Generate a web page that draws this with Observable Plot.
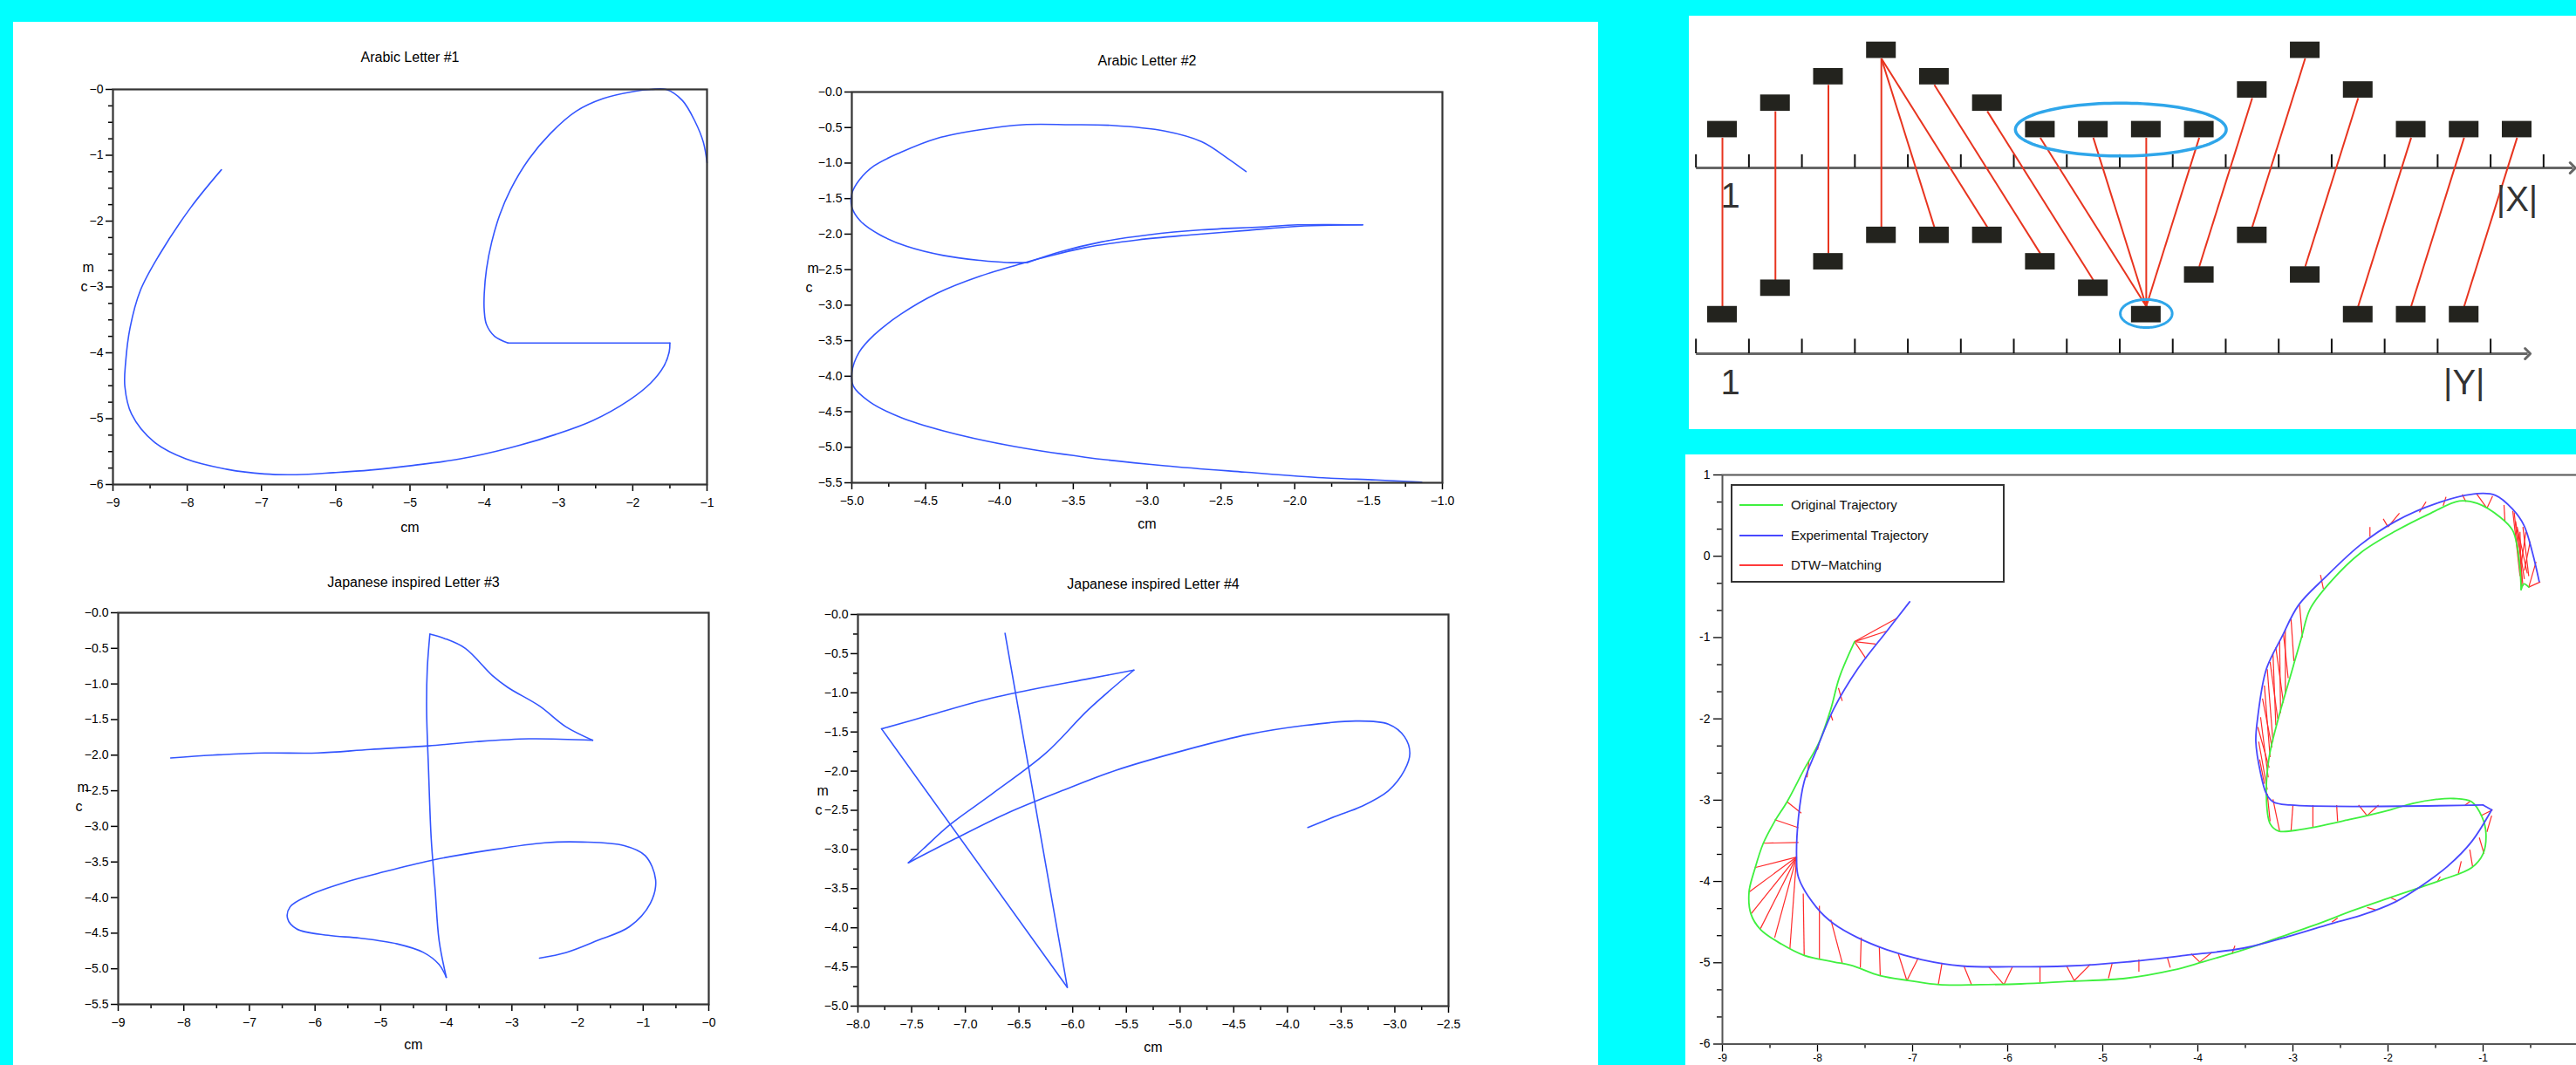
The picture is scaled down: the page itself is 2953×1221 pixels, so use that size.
<!DOCTYPE html>
<html><head><meta charset="utf-8">
<script src="https://cdn.jsdelivr.net/npm/d3@7"></script>
<script src="https://cdn.jsdelivr.net/npm/@observablehq/plot@0.6"></script>
<style>
html,body{margin:0;padding:0;}
body{width:2953px;height:1221px;background:#00ffff;position:relative;overflow:hidden;font-family:"Liberation Sans Narrow","Liberation Sans",Arial,sans-serif;}
.panel{position:absolute;background:#fff;}
svg{overflow:visible;}
.legend{position:absolute;left:1984px;top:555px;width:310px;height:109px;border:2px solid #333;background:#fff;font:15px "Liberation Sans Narrow","Liberation Sans",sans-serif;color:#111;}
.legend div{position:absolute;left:0;height:20px;line-height:20px;}
.legend span.l{position:absolute;left:8px;top:9px;width:50px;height:2px;}
.legend span.t{position:absolute;left:67px;top:0;white-space:nowrap;}
</style></head><body>
<div class="panel" style="left:15px;top:25px;width:1817px;height:1196px"></div>
<div class="panel" style="left:1936px;top:18px;width:1017px;height:474px"></div>
<div class="panel" style="left:1932px;top:521px;width:1021px;height:700px"></div>
<script>
// ---------------- DATA ----------------
const letter1 = [[-7.54,-1.22],[-7.95,-1.79],[-8.38,-2.52],[-8.63,-3.05],[-8.77,-3.62],[-8.83,-4.15],[-8.84,-4.51],[-8.75,-4.93],[-8.45,-5.35],[-8.02,-5.61],[-7.46,-5.77],[-6.96,-5.84],[-6.53,-5.85],[-6.03,-5.82],[-5.53,-5.78],[-4.96,-5.71],[-4.32,-5.61],[-3.68,-5.45],[-3.04,-5.24],[-2.54,-5.03],[-2.05,-4.72],[-1.76,-4.46],[-1.58,-4.20],[-1.51,-3.99],[-1.50,-3.85],[-3.68,-3.85],[-3.86,-3.75],[-3.97,-3.57],[-4.00,-3.36],[-4.00,-3.10],[-3.97,-2.73],[-3.90,-2.32],[-3.79,-1.90],[-3.65,-1.53],[-3.40,-1.06],[-3.11,-0.67],[-2.76,-0.33],[-2.40,-0.14],[-1.98,-0.03],[-1.75,0],[-1.55,0],[-1.33,-0.17],[-1.16,-0.49],[-1.05,-0.80],[-1.00,-1.11]];
const corners1 = [24, 25];
const letter2 = [[-2.33,-1.12],[-2.45,-0.94],[-2.63,-0.70],[-2.88,-0.55],[-3.24,-0.47],[-3.52,-0.46],[-3.84,-0.46],[-4.13,-0.53],[-4.42,-0.65],[-4.67,-0.85],[-4.85,-1.04],[-4.95,-1.24],[-5.0,-1.43],[-5.0,-1.62],[-4.94,-1.82],[-4.81,-2.01],[-4.63,-2.17],[-4.38,-2.30],[-4.13,-2.37],[-3.95,-2.40],[-3.81,-2.40],[-3.59,-2.25],[-3.31,-2.11],[-2.99,-2.01],[-2.63,-1.94],[-2.23,-1.90],[-1.98,-1.87],[-1.54,-1.87],[-1.98,-1.89],[-2.34,-1.95],[-2.70,-2.01],[-3.06,-2.08],[-3.42,-2.19],[-3.70,-2.33],[-3.84,-2.41],[-4.13,-2.59],[-4.42,-2.83],[-4.67,-3.13],[-4.85,-3.42],[-4.95,-3.66],[-5.0,-3.95],[-4.99,-4.14],[-4.88,-4.36],[-4.67,-4.58],[-4.38,-4.77],[-3.95,-4.97],[-3.42,-5.14],[-2.88,-5.26],[-2.34,-5.35],[-1.81,-5.43],[-1.45,-5.46],[-1.14,-5.49]];
const corners2 = [20, 27];
const letter3 = [[-8.20,-2.04],[-7.57,-2.00],[-6.77,-1.97],[-5.96,-1.97],[-5.16,-1.92],[-4.27,-1.87],[-3.54,-1.81],[-2.74,-1.77],[-1.77,-1.79],[-2.18,-1.60],[-2.58,-1.31],[-3.06,-1.05],[-3.30,-0.88],[-3.71,-0.50],[-4.03,-0.36],[-4.25,-0.30],[-4.29,-0.79],[-4.30,-1.36],[-4.27,-2.22],[-4.23,-3.17],[-4.17,-3.89],[-4.11,-4.60],[-4.00,-5.12],[-4.11,-4.94],[-4.35,-4.77],[-4.75,-4.65],[-5.32,-4.57],[-5.80,-4.53],[-6.28,-4.44],[-6.42,-4.29],[-6.38,-4.13],[-6.12,-3.98],[-5.56,-3.79],[-4.91,-3.63],[-4.19,-3.47],[-3.38,-3.34],[-2.50,-3.23],[-1.93,-3.22],[-1.29,-3.27],[-0.97,-3.41],[-0.81,-3.75],[-0.89,-4.08],[-1.21,-4.41],[-1.69,-4.60],[-2.17,-4.77],[-2.58,-4.85]];
const corners3 = [8, 15, 22];
const letter4 = [[-6.63,-0.24],[-6.05,-4.76],[-7.78,-1.46],[-7.34,-1.29],[-6.85,-1.10],[-6.35,-0.95],[-5.85,-0.82],[-5.43,-0.71],[-5.85,-1.21],[-6.25,-1.77],[-6.75,-2.29],[-7.14,-2.68],[-7.39,-2.99],[-7.53,-3.17],[-7.09,-2.86],[-6.60,-2.53],[-6.10,-2.25],[-5.60,-1.99],[-4.95,-1.73],[-4.36,-1.53],[-3.86,-1.42],[-3.36,-1.36],[-3.06,-1.40],[-2.91,-1.56],[-2.86,-1.77],[-2.91,-1.99],[-3.06,-2.25],[-3.31,-2.45],[-3.56,-2.58],[-3.81,-2.72]];
const corners4 = [1, 2, 7, 13];

const titles = ["Arabic Letter #1","Arabic Letter #2","Japanese inspired Letter #3","Japanese inspired Letter #4"];
const axisLabel = "cm";

// DTW schematic: sequence X (top), sequence Y (bottom), matching pairs (1-based)
const seqX = [1,2,3,4,3,2,1,1,1,1,2.5,4,2.5,1,1,1];
const seqY = [1,2,3,4,4,4,3,2,1,2.5,4,2.5,1,1,1];
const matches = [[1,1],[2,2],[3,3],[4,4],[4,5],[4,6],[5,7],[6,8],[7,9],[8,9],[9,9],[10,9],[11,10],[12,11],[13,12],[14,13],[15,14],[16,15]];
const seqLabels = ["1","|X|","1","|Y|"];

// DTW trajectory comparison
const original = [[-7.61,-1.05],[-7.77,-1.49],[-7.86,-1.88],[-7.98,-2.28],[-8.14,-2.62],[-8.32,-3.02],[-8.45,-3.26],[-8.57,-3.53],[-8.66,-3.85],[-8.72,-4.13],[-8.70,-4.40],[-8.60,-4.59],[-8.38,-4.77],[-8.14,-4.91],[-7.83,-4.99],[-7.65,-5.03],[-7.34,-5.16],[-7.03,-5.22],[-6.72,-5.27],[-6.29,-5.27],[-5.86,-5.26],[-5.37,-5.23],[-4.75,-5.19],[-4.26,-5.09],[-3.95,-4.99],[-3.52,-4.84],[-3.15,-4.69],[-2.78,-4.54],[-2.35,-4.35],[-1.98,-4.20],[-1.68,-4.08],[-1.43,-3.98],[-1.12,-3.83],[-1.00,-3.66],[-0.97,-3.41],[-1.01,-3.21],[-1.12,-3.02],[-1.31,-2.98],[-1.49,-2.99],[-1.74,-3.04],[-1.98,-3.12],[-2.41,-3.24],[-2.91,-3.36],[-3.15,-3.38],[-3.24,-3.29],[-3.28,-2.92],[-3.25,-2.47],[-3.15,-1.98],[-3.03,-1.49],[-2.91,-1.00],[-2.82,-0.65],[-2.60,-0.31],[-2.29,0.04],[-1.92,0.31],[-1.55,0.53],[-1.25,0.68],[-1.06,0.65],[-0.82,0.48],[-0.69,0.32],[-0.64,0.11],[-0.61,-0.18],[-0.60,-0.41],[-0.57,-0.34],[-0.52,-0.38]];
const cornersOrig = [61];
const experimental = [[-7.03,-0.56],[-7.27,-0.92],[-7.58,-1.39],[-7.83,-1.88],[-8.01,-2.38],[-8.14,-2.77],[-8.20,-3.21],[-8.22,-3.71],[-8.20,-3.95],[-8.01,-4.32],[-7.83,-4.52],[-7.58,-4.69],[-7.27,-4.84],[-6.91,-4.96],[-6.48,-5.04],[-5.98,-5.05],[-5.37,-5.04],[-4.75,-4.99],[-4.14,-4.91],[-3.52,-4.82],[-3.03,-4.67],[-2.60,-4.52],[-2.29,-4.42],[-1.92,-4.25],[-1.68,-4.08],[-1.37,-3.81],[-1.12,-3.51],[-0.91,-3.12],[-1.00,-3.06],[-3.03,-3.06],[-3.21,-3.02],[-3.28,-2.92],[-3.34,-2.67],[-3.39,-2.28],[-3.37,-1.98],[-3.28,-1.39],[-3.12,-1.00],[-2.94,-0.60],[-2.66,-0.26],[-2.29,0.14],[-1.92,0.43],[-1.49,0.65],[-1.06,0.77],[-0.87,0.75],[-0.69,0.58],[-0.57,0.38],[-0.48,0.04],[-0.41,-0.31]];
const cornersExp = [27, 28];
const dtwMatching = [
[-7.61,-1.05,-7.16,-0.76],[-7.61,-1.05,-7.27,-0.92],[-7.61,-1.05,-7.39,-1.08],[-7.61,-1.05,-7.49,-1.26],
[-7.78,-1.62,-7.74,-1.78],[-7.86,-1.95,-7.84,-2.02],[-7.98,-2.28,-8.00,-2.38],[-8.09,-2.52,-8.11,-2.72],
[-8.32,-3.02,-8.17,-3.16],[-8.45,-3.24,-8.20,-3.34],[-8.57,-3.53,-8.20,-3.52],[-8.66,-3.83,-8.22,-3.70],
[-8.72,-4.13,-8.22,-3.70],[-8.70,-4.40,-8.22,-3.70],[-8.60,-4.58,-8.22,-3.70],[-8.45,-4.69,-8.22,-3.70],[-8.29,-4.82,-8.22,-3.70],
[-8.14,-4.91,-8.15,-4.15],[-7.98,-4.96,-7.98,-4.30],[-7.74,-5.00,-7.86,-4.47],[-7.55,-5.06,-7.54,-4.69],[-7.34,-5.16,-7.35,-4.80],
[-7.06,-5.22,-7.15,-4.89],[-7.06,-5.22,-6.94,-4.94],[-6.73,-5.27,-6.69,-5.00],[-6.38,-5.27,-6.46,-5.04],[-6.04,-5.27,-6.20,-5.05],
[-6.04,-5.27,-5.95,-5.05],[-5.66,-5.24,-5.66,-5.05],[-5.30,-5.22,-5.38,-5.04],[-5.30,-5.22,-5.13,-5.02],[-4.94,-5.19,-4.90,-5.00],
[-4.62,-5.11,-4.62,-4.96],[-4.29,-5.06,-4.32,-4.94],[-3.98,-4.99,-4.07,-4.89],[-3.98,-4.99,-3.85,-4.87],[-3.64,-4.89,-3.61,-4.79],
[-2.59,-4.50,-2.53,-4.45],[-2.22,-4.32,-2.13,-4.35],[-1.97,-4.20,-1.90,-4.24],[-1.48,-4.00,-1.45,-3.94],[-1.26,-3.90,-1.23,-3.75],
[-1.11,-3.82,-1.14,-3.61],[-0.99,-3.66,-1.04,-3.46],[-0.96,-3.39,-0.91,-3.19],[-1.02,-3.19,-0.90,-3.12],[-1.14,-3.02,-1.19,-3.06],
[-2.22,-3.19,-2.31,-3.06],[-2.22,-3.19,-2.10,-3.06],[-2.53,-3.26,-2.54,-3.06],[-2.79,-3.34,-2.79,-3.06],[-3.02,-3.38,-3.00,-3.06],
[-3.14,-3.38,-3.21,-2.99],[-3.24,-3.26,-3.27,-2.92],
[-3.27,-2.87,-3.36,-2.28],[-3.26,-2.72,-3.34,-1.98],[-3.24,-2.47,-3.30,-1.59],[-3.21,-2.28,-3.27,-1.39],[-3.18,-2.08,-3.21,-1.19],
[-3.13,-1.93,-3.14,-1.05],[-3.08,-1.69,-3.08,-0.90],[-2.99,-1.29,-3.02,-0.77],[-2.90,-1.00,-2.93,-0.60],
[-3.30,-2.80,-3.35,-2.50],[-3.25,-2.60,-3.37,-2.10],[-3.22,-2.35,-3.32,-1.75],[-3.16,-2.00,-3.24,-1.30],[-3.10,-1.80,-3.18,-1.12],[-3.05,-1.50,-3.10,-0.95],
[-2.68,-0.40,-2.71,-0.23],[-2.19,0.24,-2.19,0.36],[-2.00,0.36,-2.05,0.46],[-2.00,0.36,-1.88,0.53],[-1.67,0.54,-1.60,0.67],
[-1.42,0.62,-1.39,0.73],[-1.18,0.67,-1.22,0.76],[-0.96,0.59,-1.07,0.77],[-0.96,0.59,-0.90,0.74],[-0.77,0.43,-0.78,0.63],
[-0.688,0.557,-0.612,-0.244],[-0.673,0.539,-0.596,-0.316],[-0.658,0.431,-0.566,-0.281],[-0.642,0.361,-0.535,-0.210],
[-0.627,0.253,-0.581,-0.369],[-0.581,0.361,-0.520,-0.244],[-0.505,0.181,-0.566,-0.175],[-0.443,-0.068,-0.520,-0.380],
[-0.398,-0.316,-0.520,-0.380],[-0.612,0.30,-0.596,-0.40],[-0.55,0.30,-0.60,-0.10]
];
const legendLabels = ["Original Trajectory","Experimental Trajectory","DTW\u2212Matching"];

// ---------------- STYLE ----------------
const FONT = '"Liberation Sans Narrow","Liberation Sans",Arial,sans-serif';
const BLUE = "#3355ff";
const ML = 110, MT = 80, MR = 30, MB = 75;
const minus = "\u2212";
const fmtInt = d => minus + Math.abs(d).toFixed(0);
const fmt1 = d => minus + Math.abs(d).toFixed(1);
const rng = (a, b, s) => d3.range(Math.round((b - a) / s) + 1).map(k => +(a + k * s).toFixed(4));
const minorOf = (a, b, s, major) => rng(a, b, s).filter(v => !major.some(m => Math.abs(m - v) < 1e-6));
// split a stroke into smooth pieces at its sharp corners
function strokes(pts, corners) {
  const cuts = [0, ...corners, pts.length - 1];
  const out = [];
  for (let s = 0; s < cuts.length - 1; s++)
    for (let k = cuts[s]; k <= cuts[s + 1]; k++) out.push({px: pts[k][0], py: pts[k][1], seg: s});
  return out;
}

function letterPlot(c) {
  const fw = c.right - c.left, fh = c.bottom - c.top;
  const xMinor = c.xMinorStep ? minorOf(c.xdom[0], c.xdom[1], c.xMinorStep, c.xMajor) : [];
  const yMinor = c.yMinorStep ? minorOf(c.ydom[0], c.ydom[1], c.yMinorStep, c.yMajor) : [];
  const p = Plot.plot({
    width: fw + ML + MR, height: fh + MT + MB,
    marginLeft: ML, marginTop: MT, marginRight: MR, marginBottom: MB,
    style: {background: "transparent", fontFamily: FONT, fontSize: "14px", color: "#000", overflow: "visible"},
    x: {domain: c.xdom, label: null}, y: {domain: c.ydom, label: null},
    marks: [
      Plot.axisX(xMinor, {tickSize: 5, tickFormat: () => "", strokeWidth: 1.5, label: null}),
      Plot.axisX(c.xMajor, {tickSize: 8, tickPadding: 8, tickFormat: c.fx, strokeWidth: 1.5, fontSize: 14, label: null}),
      Plot.axisY(yMinor, {tickSize: 5, tickFormat: () => "", strokeWidth: 1.5, label: null}),
      Plot.axisY(c.yMajor, {tickSize: 8, tickPadding: 3, tickFormat: c.fy, strokeWidth: 1.5, fontSize: 14, label: null}),
      Plot.line(strokes(c.pts, c.corners), {x: d => d.px, y: d => d.py, z: d => d.seg, stroke: BLUE, strokeWidth: 1.6, curve: "catmull-rom"}),
      Plot.frame({stroke: "#333", strokeWidth: 2.2}),
      Plot.text([c.title], {text: d => d, frameAnchor: "top", dy: c.tdy, fontSize: 16}),
      Plot.text([axisLabel], {text: d => d, frameAnchor: "bottom", dy: c.cdy, fontSize: 16}),
      Plot.text([axisLabel[1]], {text: d => d, frameAnchor: "left", dx: c.mdx, dy: c.mdy, fontSize: 16}),
      Plot.text([axisLabel[0]], {text: d => d, frameAnchor: "left", dx: c.mdx - 2, dy: c.mdy + 22, fontSize: 16})
    ]
  });
  p.style.position = "absolute";
  p.style.left = (c.left - ML) + "px";
  p.style.top = (c.top - MT) + "px";
  document.body.appendChild(p);
}

letterPlot({title: titles[0], pts: letter1, corners: corners1, left: 129, right: 810, top: 102, bottom: 555,
  xdom: [-9, -1], ydom: [-6, 0], xMajor: rng(-9, -1, 1), yMajor: rng(-6, 0, 1),
  xMinorStep: 0.5, yMinorStep: 0.25, fx: fmtInt, fy: fmtInt, tdy: -43, cdy: 54, mdx: -35, mdy: -22});
letterPlot({title: titles[1], pts: letter2, corners: corners2, left: 976, right: 1653, top: 105, bottom: 553,
  xdom: [-5, -1], ydom: [-5.5, 0], xMajor: rng(-5, -1, 0.5), yMajor: rng(-5.5, 0, 0.5),
  xMinorStep: 0.25, yMinorStep: 0, fx: fmt1, fy: fmt1, tdy: -42, cdy: 52, mdx: -51, mdy: -22});
letterPlot({title: titles[2], pts: letter3, corners: corners3, left: 135, right: 812, top: 702, bottom: 1151,
  xdom: [-9, 0], ydom: [-5.5, 0], xMajor: rng(-9, 0, 1), yMajor: rng(-5.5, 0, 0.5),
  xMinorStep: 0.5, yMinorStep: 0, fx: fmtInt, fy: fmt1, tdy: -41, cdy: 51, mdx: -47, mdy: -24});
letterPlot({title: titles[3], pts: letter4, corners: corners4, left: 983, right: 1660, top: 704, bottom: 1153,
  xdom: [-8, -2.5], ydom: [-5, 0], xMajor: rng(-8, -2.5, 0.5), yMajor: rng(-5, 0, 0.5),
  xMinorStep: 0.25, yMinorStep: 0.25, fx: fmt1, fy: fmt1, tdy: -41, cdy: 52, mdx: -47, mdy: -22});

// ---------------- DTW schematic ----------------
{
  const topAxis = -0.452, botAxis = -7.48, shift = 7, hw = 0.28, hh = 0.31;
  const xs = seqX.map((v, i) => ({i: i + 1, v}));
  const ys = seqY.map((v, i) => ({i: i + 1, v: v - shift}));
  const ell = (cx, cy, rx, ry) => d3.range(0, 121).map(k => { const t = k / 120 * 2 * Math.PI; return [cx + rx * Math.cos(t), cy + ry * Math.sin(t)]; });
  const p = Plot.plot({
    width: 1017, height: 474, marginLeft: 0, marginRight: 0, marginTop: 0, marginBottom: 0,
    style: {background: "transparent", fontFamily: FONT, overflow: "visible"},
    x: {domain: [0.374, 17.12], axis: null}, y: {domain: [-10.35, 5.29], axis: null},
    marks: [
      Plot.link([[0.5, 17.05, topAxis], [0.5, 16.2, botAxis]], {x1: d => d[0], x2: d => d[1], y1: d => d[2], y2: d => d[2], stroke: "#666", strokeWidth: 3, markerEnd: "arrow"}),
      Plot.ruleX(rng(0.5, 16.5, 1), {x: d => d, y1: topAxis, y2: topAxis + 0.5, stroke: "#111", strokeWidth: 2}),
      Plot.ruleX(rng(0.5, 15.5, 1), {x: d => d, y1: botAxis, y2: botAxis + 0.55, stroke: "#111", strokeWidth: 2}),
      Plot.link(matches, {x1: d => d[0], y1: d => seqX[d[0] - 1] - hh, x2: d => d[1], y2: d => seqY[d[1] - 1] - shift + hh, stroke: "#e8341f", strokeWidth: 2}),
      Plot.rect(xs, {x1: d => d.i - hw, x2: d => d.i + hw, y1: d => d.v - hh, y2: d => d.v + hh, fill: "#23231e"}),
      Plot.rect(ys, {x1: d => d.i - hw, x2: d => d.i + hw, y1: d => d.v - hh, y2: d => d.v + hh, fill: "#23231e"}),
      Plot.line(ell(8.52, 1.0, 1.99, 1.0), {x: d => d[0], y: d => d[1], stroke: "#2fa6ea", strokeWidth: 3.5}),
      Plot.line(ell(9.0, -5.96, 0.49, 0.53), {x: d => d[0], y: d => d[1], stroke: "#2fa6ea", strokeWidth: 3}),
      Plot.text([[1.15, -1.54], [16, -1.67], [1.15, -8.6], [15, -8.6]], {x: d => d[0], y: d => d[1], text: (d, i) => seqLabels[i], fontSize: 40, fill: "#333"})
    ]
  });
  p.style.position = "absolute"; p.style.left = "1936px"; p.style.top = "18px";
  document.body.appendChild(p);
}

// ---------------- DTW trajectory comparison ----------------
{
  const yMaj = rng(-6, 1, 1);
  const yMin = d3.range(-18, 4).filter(k => k % 3 !== 0).map(k => k / 3);
  const xMaj = rng(-9, 0, 1);
  const xMin = rng(-8.5, -0.5, 1);
  const f = d => (d < 0 ? "-" + (-d) : String(d));
  const p = Plot.plot({
    width: 1030, height: 700, marginLeft: 42, marginTop: 23, marginRight: 7, marginBottom: 24.5,
    style: {background: "transparent", fontFamily: FONT, fontSize: "14px", color: "#000", overflow: "visible"},
    x: {domain: [-9, 0], label: null}, y: {domain: [-6, 1], label: null},
    marks: [
      Plot.axisX(xMin, {tickSize: 5, tickFormat: () => "", strokeWidth: 1.3, label: null}),
      Plot.axisX(xMaj, {tickSize: 9, tickPadding: 2, tickFormat: d => (d === 0 ? "" : f(d)), strokeWidth: 1.3, fontSize: 12, label: null}),
      Plot.axisY(yMin, {tickSize: 6, tickFormat: () => "", strokeWidth: 1.3, label: null}),
      Plot.axisY(yMaj, {tickSize: 10, tickPadding: 4, tickFormat: f, strokeWidth: 1.3, fontSize: 14, label: null}),
      Plot.link(dtwMatching, {x1: d => d[0], y1: d => d[1], x2: d => d[2], y2: d => d[3], stroke: "#ff2a2a", strokeWidth: 1.2}),
      Plot.line(strokes(original, cornersOrig), {x: d => d.px, y: d => d.py, z: d => d.seg, stroke: "#3ff03f", strokeWidth: 1.8, curve: "catmull-rom"}),
      Plot.line(strokes(experimental, cornersExp), {x: d => d.px, y: d => d.py, z: d => d.seg, stroke: "#4848ff", strokeWidth: 1.8, curve: "catmull-rom"}),
      Plot.frame({stroke: "#555", strokeWidth: 2})
    ]
  });
  p.style.position = "absolute"; p.style.left = "1932px"; p.style.top = "521px";
  document.body.appendChild(p);

  const lg = document.createElement("div");
  lg.className = "legend";
  const cols = ["#3ff03f", "#4848ff", "#ff3a3a"];
  legendLabels.forEach((t, i) => {
    const row = document.createElement("div");
    row.style.top = (12 + i * 34.5) + "px";
    row.innerHTML = `<span class="l" style="background:${cols[i]}"></span><span class="t">${t}</span>`;
    lg.appendChild(row);
  });
  document.body.appendChild(lg);
}
</script>
</body></html>
